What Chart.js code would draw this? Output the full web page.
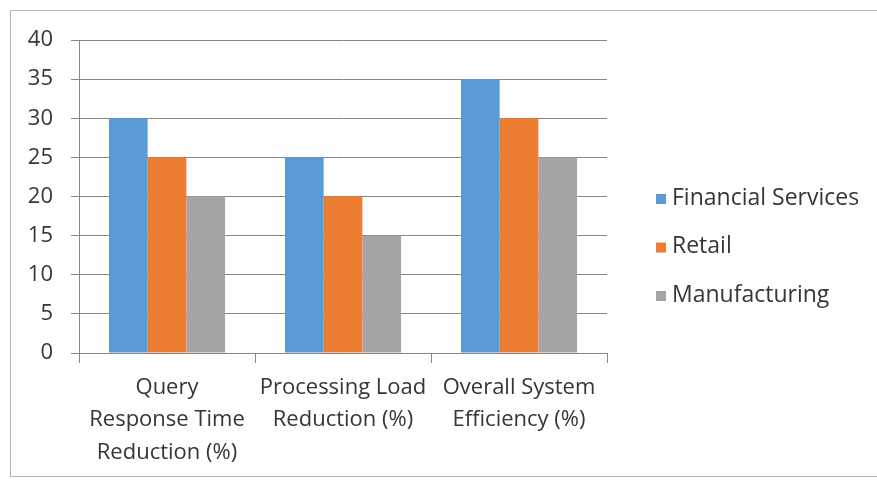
<!DOCTYPE html>
<html>
<head>
<meta charset="utf-8">
<script src="https://cdn.jsdelivr.net/npm/chart.js@4.4.1/dist/chart.umd.min.js"></script>
<style>
  html, body { margin: 0; padding: 0; background: #fff; }
  #wrap { position: relative; width: 877px; height: 482px; }
  #frame { position: absolute; left: 10px; top: 10px; width: 880px; height: 467px;
           border: 1px solid #b4b4b4; border-right: none; box-sizing: border-box; pointer-events: none; }
  canvas { position: absolute; left: 0; top: 0; }
</style>
</head>
<body>
<div id="wrap">
  <canvas id="chart" width="877" height="482"></canvas>
  <div id="frame"></div>
</div>
<script>
// Categories (multi-line axis labels)
const categories = [
  ["Query", "Response Time", "Reduction (%)"],
  ["Processing Load", "Reduction (%)"],
  ["Overall System", "Efficiency (%)"]
];

// Series values
const financialServices = [30, 25, 35];
const retail = [25, 20, 30];
const manufacturing = [20, 15, 25];

// Value axis ticks
const yTicks = [0, 5, 10, 15, 20, 25, 30, 35, 40];

const seriesNames = ["Financial Services", "Retail", "Manufacturing"];
const seriesColors = ["#5b9bd5", "#ed7d31", "#a5a5a5"];

const FONT = "'Open Sans', 'Noto Sans', sans-serif";
const TEXT = "#363636";
const GRID = "#868686";

// Legend drawn to the right of the plot, stacked vertically
const sideLegend = {
  id: 'sideLegend',
  afterDraw(chart) {
    const ctx = chart.ctx;
    const x = chart.chartArea.right + 49;
    const y0 = 198;
    const step = 48.5;
    ctx.save();
    ctx.font = "23px " + FONT;
    ctx.textBaseline = "middle";
    ctx.textAlign = "left";
    chart.data.datasets.forEach((ds, i) => {
      const cy = y0 + i * step;
      ctx.fillStyle = ds.backgroundColor;
      ctx.fillRect(x, cy - 4, 10, 10);
      ctx.fillStyle = TEXT;
      ctx.fillText(ds.label, x + 16, cy);
    });
    ctx.restore();
  }
};

new Chart(document.getElementById('chart'), {
  type: 'bar',
  data: {
    labels: categories,
    datasets: [
      { label: seriesNames[0], data: financialServices, backgroundColor: seriesColors[0] },
      { label: seriesNames[1], data: retail, backgroundColor: seriesColors[1] },
      { label: seriesNames[2], data: manufacturing, backgroundColor: seriesColors[2] }
    ]
  },
  options: {
    responsive: false,
    animation: false,
    layout: { padding: { left: 12, top: 40, right: 270, bottom: 9 } },
    datasets: { bar: { categoryPercentage: 0.66, barPercentage: 1.0 } },
    plugins: { legend: { display: false }, tooltip: { enabled: false } },
    scales: {
      x: {
        offset: true,
        grid: { display: true, offset: true, drawOnChartArea: false, drawTicks: true,
                tickLength: 10, color: GRID, lineWidth: 1 },
        border: { display: true, color: GRID, width: 1 },
        ticks: { color: TEXT, padding: 8, maxRotation: 0, autoSkip: false,
                 font: { family: FONT, size: 22, lineHeight: 1.48 } },
        afterFit(scale) { scale.height = 120; }
      },
      y: {
        min: 0, max: 40,
        afterBuildTicks(scale) { scale.ticks = yTicks.map(v => ({ value: v })); },
        grid: { color: GRID, lineWidth: 1, drawTicks: true, tickLength: 8 },
        border: { display: true, color: GRID, width: 1 },
        ticks: { color: TEXT, padding: 18, font: { family: FONT, size: 22 } },
        afterFit(scale) { scale.width = 67; }
      }
    }
  },
  plugins: [sideLegend]
});
</script>
</body>
</html>
